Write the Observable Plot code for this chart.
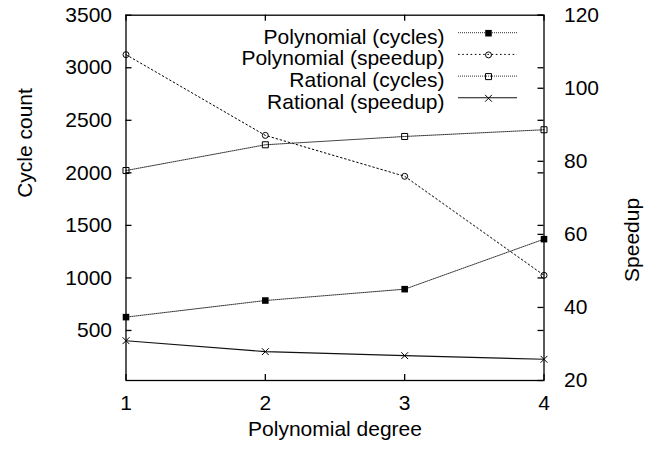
<!DOCTYPE html>
<html><head><meta charset="utf-8">
<script src="https://cdn.jsdelivr.net/npm/d3@7"></script>
<script src="https://cdn.jsdelivr.net/npm/@observablehq/plot@0.6"></script>
<style>html,body{margin:0;padding:0;background:#fff} svg{display:block}</style>
</head><body><div id="chart"></div>
<script>
// ---- data ----
const degrees = [1, 2, 3, 4];
const polyCycles = [627, 785, 893, 1369];
const polySpeedup = [109.2, 87.1, 75.9, 48.8];
const ratCycles = [2022, 2267, 2346, 2410];
const ratSpeedup = [30.9, 27.9, 26.8, 25.8];
const cycleTicks = [500, 1000, 1500, 2000, 2500, 3000, 3500];
const speedupTicks = [20, 40, 60, 80, 100, 120];
const degreeTicks = [1, 2, 3, 4];
const legendLabels = ["Polynomial (cycles)", "Polynomial (speedup)", "Rational (cycles)", "Rational (speedup)"];
const xLabel = "Polynomial degree";
const yLabel = "Cycle count";
const y2Label = "Speedup";

// ---- scales ----
const cycleDomain = [24, 3500];
const speedupDomain = [20, 120];
const s2c = d3.scaleLinear().domain(speedupDomain).range(cycleDomain);

const series = [
  {vals: polyCycles, conv: v => v, stroke: "#333", dash: "1,1", width: 1, symbol: "square", fill: "#000", dstroke: "none", r: 3.7},
  {vals: polySpeedup, conv: v => s2c(v), stroke: "#000", dash: "1.6,2.6", width: 1, symbol: "circle", fill: "none", dstroke: "#000", r: 3},
  {vals: ratCycles, conv: v => v, stroke: "#333", dash: "1,1", width: 1, symbol: "square", fill: "none", dstroke: "#000", r: 3.4},
  {vals: ratSpeedup, conv: v => s2c(v), stroke: "#111", dash: null, width: 1.1, symbol: "times", fill: "none", dstroke: "#000", r: 3.2}
];

const W = 659, H = 450;
const ML = 125.5, MR = 115.5, MT = 14.7, MB = 70;
const FW = W - ML - MR, FH = H - MT - MB, TK = 6;

const marks = [];
series.forEach(s => {
  const rows = degrees.map((d, i) => ({x: d, y: s.conv(s.vals[i])}));
  marks.push(Plot.line(rows, {x: "x", y: "y", stroke: s.stroke, strokeWidth: s.width, strokeDasharray: s.dash}));
});

// inward ticks (mirrored on opposite sides)
const tickStyle = {stroke: "#000", strokeWidth: 1.3};
marks.push(Plot.tickY(cycleTicks, {y: d => d, insetRight: FW - TK, ...tickStyle}));
marks.push(Plot.tickY(cycleTicks, {y: d => d, insetLeft: FW - TK, ...tickStyle}));
marks.push(Plot.tickY(speedupTicks, {y: d => s2c(d), insetLeft: FW - TK, ...tickStyle}));
marks.push(Plot.tickX(degreeTicks, {x: d => d, insetTop: FH - TK, ...tickStyle}));
marks.push(Plot.tickX(degreeTicks, {x: d => d, insetBottom: FH - TK, ...tickStyle}));

series.forEach(s => {
  const rows = degrees.map((d, i) => ({x: d, y: s.conv(s.vals[i])}));
  marks.push(Plot.dot(rows, {x: "x", y: "y", symbol: s.symbol, r: s.r, fill: s.fill, stroke: s.dstroke, strokeWidth: 1}));
});

// frame
marks.push(Plot.frame({stroke: "#000", strokeWidth: 1.3}));

// tick labels
marks.push(Plot.axisY({ticks: cycleTicks, anchor: "left", tickSize: 0, tickPadding: 14, label: null, tickFormat: d => String(d)}));
marks.push(Plot.axisY({ticks: speedupTicks.map(s2c), anchor: "right", tickSize: 0, tickPadding: 20, label: null, tickFormat: v => String(Math.round(s2c.invert(v)))}));
marks.push(Plot.axisX({ticks: degreeTicks, anchor: "bottom", tickSize: 0, tickPadding: 15, label: null, tickFormat: d => String(d)}));

// axis titles
marks.push(Plot.text([yLabel], {text: d => d, frameAnchor: "left", dx: -100.5, rotate: -90}));
marks.push(Plot.text([y2Label], {text: d => d, frameAnchor: "right", dx: 88.5, rotate: -90}));
marks.push(Plot.text([xLabel], {text: d => d, frameAnchor: "bottom", dy: 55}));

// legend
const legTextX = 444, legLineX1 = 458, legLineX2 = 517, legMarkX = 488;
const legRow0 = 32.7, legStep = 21.7;
legendLabels.forEach((lab, i) => {
  const yy = legRow0 + i * legStep;
  marks.push(Plot.text([lab], {text: d => d, frameAnchor: "top-left", dx: legTextX - ML, dy: yy - 4.4 - MT, textAnchor: "end"}));
});
marks.push(() => {
  const g = d3.create("svg:g");
  series.forEach((s, i) => {
    const yy = legRow0 + i * legStep;
    g.append("line").attr("x1", legLineX1).attr("x2", legLineX2).attr("y1", yy).attr("y2", yy)
      .attr("stroke", s.stroke).attr("stroke-width", s.width)
      .attr("stroke-dasharray", s.dash);
  });
  return g.node();
});
series.forEach((s, i) => {
  const yy = legRow0 + i * legStep;
  marks.push(Plot.dot([0], {frameAnchor: "top-left", dx: legMarkX - ML, dy: yy - MT, symbol: s.symbol, r: s.r, fill: s.fill, stroke: s.dstroke, strokeWidth: 1}));
});

const chart = Plot.plot({
  width: W,
  height: H,
  marginLeft: ML,
  marginRight: MR,
  marginTop: MT,
  marginBottom: MB,
  style: {fontFamily: "'Liberation Sans', Arial, sans-serif", fontSize: "21px", background: "#fff", color: "#000"},
  x: {domain: [1, 4], label: null},
  y: {domain: cycleDomain, label: null},
  marks
});
document.getElementById("chart").appendChild(chart);
</script>
</body></html>
